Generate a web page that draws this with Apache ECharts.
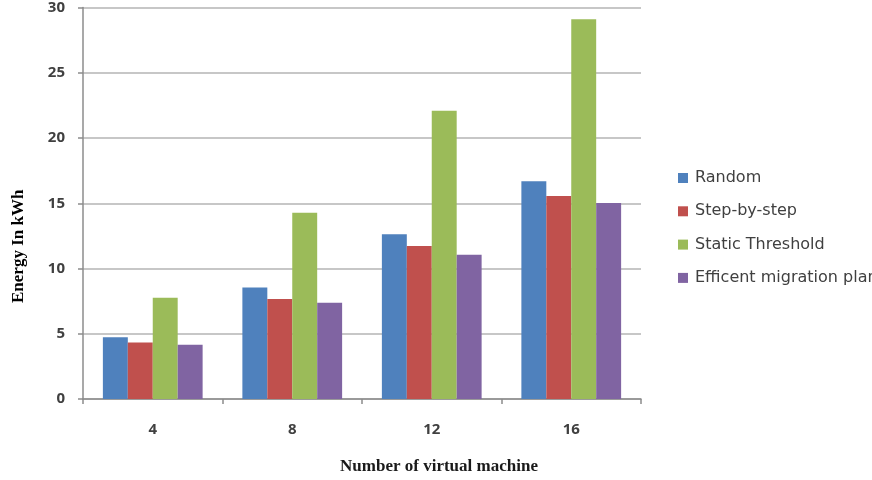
<!DOCTYPE html>
<html>
<head>
<meta charset="utf-8">
<script src="https://cdn.jsdelivr.net/npm/echarts@6/dist/echarts.min.js"></script>
<style>
  html, body { margin: 0; padding: 0; background: #fff; }
  #chart { width: 872px; height: 480px; }
</style>
</head>
<body>
<div id="chart"></div>
<script>
// data
const categories = ["4", "8", "12", "16"];
const randomVals = [4.74, 8.54, 12.62, 16.68];
const stepVals = [4.33, 7.67, 11.73, 15.55];
const staticVals = [7.75, 14.28, 22.08, 29.1];
const efficientVals = [4.15, 7.37, 11.06, 15.02];
const seriesNames = ["Random", "Step-by-step", "Static Threshold", "Efficent migration plan"];
const colors = ["#4F81BD", "#C0504D", "#9BBB59", "#8064A2"];

const myChart = echarts.init(document.getElementById("chart"));

const tickFont = { fontFamily: "Open Sans", fontSize: 15, fontWeight: "bold", color: "#404040" };

const option = {
  animation: false,
  color: colors,
  grid: { left: 83, right: 231, top: 7, bottom: 81 },
  legend: {
    orient: "vertical",
    left: 673,
    top: 164,
    itemWidth: 10,
    itemHeight: 10,
    itemGap: 15.3,
    icon: "rect",
    textStyle: { fontFamily: "DejaVu Sans", fontSize: 16, lineHeight: 18, color: "#404040", padding: [0, 0, 0, 2] },
    data: seriesNames
  },
  xAxis: {
    type: "category",
    data: categories,
    axisLine: { lineStyle: { color: "#8c8c8c", width: 1.5 } },
    axisTick: { show: true, length: 5, alignWithLabel: false, lineStyle: { color: "#8c8c8c", width: 1.5 } },
    axisLabel: Object.assign({ margin: 23 }, tickFont)
  },
  yAxis: {
    type: "value",
    min: 0,
    max: 30,
    interval: 5,
    axisLine: { show: true, lineStyle: { color: "#8c8c8c", width: 1.5 } },
    axisTick: { show: true, length: 5, lineStyle: { color: "#8c8c8c", width: 1.5 } },
    axisLabel: Object.assign({ margin: 18 }, tickFont),
    splitLine: { lineStyle: { color: "#b4b4b4", width: 1.5 } }
  },
  series: [
    { name: seriesNames[0], type: "bar", data: randomVals, barGap: "0%", barCategoryGap: "28.5%" },
    { name: seriesNames[1], type: "bar", data: stepVals, barGap: "0%", barCategoryGap: "28.5%" },
    { name: seriesNames[2], type: "bar", data: staticVals, barGap: "0%", barCategoryGap: "28.5%" },
    { name: seriesNames[3], type: "bar", data: efficientVals, barGap: "0%", barCategoryGap: "28.5%" }
  ],
  graphic: [
    {
      type: "text",
      x: 10,
      y: 303,
      rotation: Math.PI / 2,
      style: {
        text: "Energy In kWh",
        font: "bold 17px 'Liberation Serif'",
        fill: "#000",
        textVerticalAlign: "top"
      }
    },
    {
      type: "text",
      x: 439,
      y: 467,
      style: {
        text: "Number of virtual machine",
        font: "bold 17px 'Liberation Serif'",
        fill: "#1a1a1a",
        textAlign: "center",
        textVerticalAlign: "middle"
      }
    }
  ]
};

myChart.setOption(option);
</script>
</body>
</html>
